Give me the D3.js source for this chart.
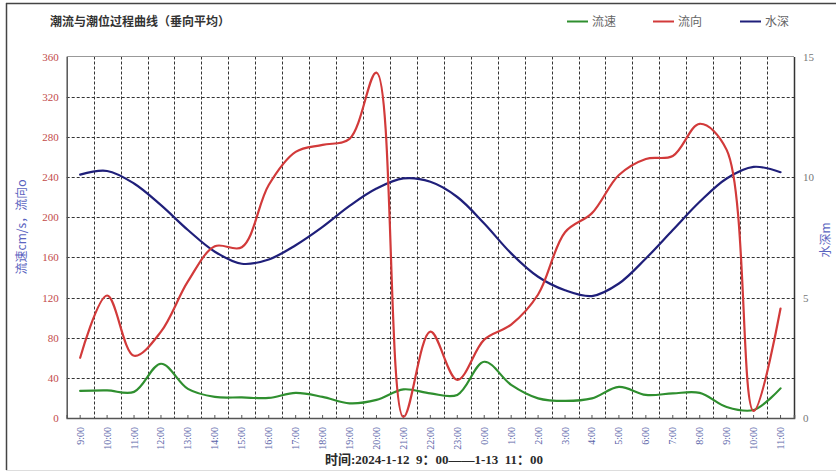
<!DOCTYPE html>
<html>
<head>
<meta charset="utf-8">
<script src="https://cdn.jsdelivr.net/npm/d3@7/dist/d3.min.js"></script>
<style>
  html, body { margin: 0; padding: 0; background: #fff; }
  svg { display: block; }
</style>
</head>
<body>
<svg id="chart" width="836" height="473"></svg>
<script>
// ---- data ----
const categories = ["9:00","10:00","11:00","12:00","13:00","14:00","15:00","16:00","17:00","18:00","19:00","20:00","21:00","22:00","23:00",
  "0:00","1:00","2:00","3:00","4:00","5:00","6:00","7:00","8:00","9:00 ","10:00 ","11:00 "];
const speed = [27, 27.5, 26, 54, 29, 21, 20.5, 20, 25, 21, 14.6, 18, 28.5, 24.5, 23, 56, 33, 19.6, 17, 19.5, 31, 23, 24.5, 25, 11, 8, 29.5];
const direction = [60, 122, 62, 86, 136, 171, 170, 232, 265, 272, 278, 344, 1, 86, 38, 78, 93, 123, 185, 204, 242, 258, 261, 293, 267, 7, 109];
const depth = [10.1, 10.25, 9.73, 8.83, 7.8, 6.9, 6.4, 6.58, 7.17, 7.93, 8.8, 9.52, 9.94, 9.8, 9.17, 8.07, 6.83, 5.86, 5.3, 5.06, 5.58, 6.62, 7.8, 8.97, 9.94, 10.42, 10.2];
const leftTicks = [0, 40, 80, 120, 160, 200, 240, 280, 320, 360];
const rightTicks = [0, 5, 10, 15];
const titleText = "潮流与潮位过程曲线（垂向平均）";
const xTitle = "时间:2024-1-12  9：00——1-13  11：00";
const yLeftTitle = "流速cm/s，流向o";
const yRightTitle = "水深m";
const legendItems = [
  {name: "流速", color: "#2f8f2f"},
  {name: "流向", color: "#d23a3a"},
  {name: "水深", color: "#1f1f7a"}
];

// ---- layout ----
const svg = d3.select("#chart");
const L = 66.7, R = 794, T = 56.5, B = 418;
const serif = "'Liberation Serif','DejaVu Serif','Noto Sans CJK SC',serif";
const cjk = "'Noto Sans CJK SC','Noto Sans',sans-serif";

// outer frame
svg.append("line").attr("x1", 6).attr("x2", 836).attr("y1", 3.5).attr("y2", 3.5).attr("stroke", "#444").attr("stroke-width", 1.5);
svg.append("line").attr("x1", 6.5).attr("x2", 6.5).attr("y1", 3).attr("y2", 470).attr("stroke", "#444").attr("stroke-width", 1.5);
svg.append("line").attr("x1", 6).attr("x2", 836).attr("y1", 470.5).attr("y2", 470.5).attr("stroke", "#ddd").attr("stroke-width", 1);

const x = d3.scaleBand().domain(categories).range([L, R]).padding(0);
const cx = d => x(d) + x.bandwidth() / 2;
const yL = d3.scaleLinear().domain([0, 360]).range([B, T]);
const yR = d3.scaleLinear().domain([0, 15]).range([B, T]);

// grid
const grid = svg.append("g");
grid.selectAll("line.h").data(leftTicks.filter(v => v > 0 && v < 360)).join("line")
  .attr("x1", L).attr("x2", R).attr("y1", d => Math.round(yL(d)) + 0.5).attr("y2", d => Math.round(yL(d)) + 0.5)
  .attr("stroke", "#333").attr("stroke-width", 1).attr("stroke-dasharray", "3,2");
grid.selectAll("line.v").data(categories.slice(1)).join("line")
  .attr("x1", d => Math.round(x(d)) + 0.5).attr("x2", d => Math.round(x(d)) + 0.5).attr("y1", T).attr("y2", B)
  .attr("stroke", "#333").attr("stroke-width", 1).attr("stroke-dasharray", "3,2");

// plot frame
svg.append("line").attr("x1", L).attr("x2", R).attr("y1", T).attr("y2", T).attr("stroke", "#999").attr("stroke-width", 1);

// axes
const axL = svg.append("g").attr("transform", `translate(${L},0)`)
  .call(d3.axisLeft(yL).tickValues(leftTicks).tickSize(0).tickPadding(8));
axL.select(".domain").attr("stroke", "#555").attr("stroke-width", 1.5);
axL.selectAll("text").attr("fill", "#c24a4a").style("font-family", serif).style("font-size", "11px");

const axR = svg.append("g").attr("transform", `translate(${R},0)`)
  .call(d3.axisRight(yR).tickValues(rightTicks).tickSize(0).tickPadding(9));
axR.select(".domain").attr("stroke", "#333").attr("stroke-width", 1.5);
axR.selectAll("text").attr("fill", "#777").style("font-family", serif).style("font-size", "11px");

const axB = svg.append("g").attr("transform", `translate(0,${B})`)
  .call(d3.axisBottom(x).tickSize(-3).tickPadding(0).tickFormat(d => d.trim()));
axB.select(".domain").attr("stroke", "#555").attr("stroke-width", 1.5);
axB.selectAll(".tick line").attr("stroke", "#555");
axB.selectAll("text")
  .attr("transform", "rotate(-90)")
  .attr("x", -9).attr("y", 0).attr("dy", "0.35em")
  .attr("text-anchor", "end")
  .attr("fill", "#5a64a8").style("font-family", serif).style("font-size", "10px");

// lines
const curve = d3.curveCatmullRom.alpha(0.5);
function drawLine(values, yScale, color) {
  const line = d3.line().x((d, i) => cx(categories[i])).y(d => yScale(d)).curve(curve);
  svg.append("path").datum(values).attr("d", line)
    .attr("fill", "none").attr("stroke", color).attr("stroke-width", 2.2)
    .attr("stroke-linejoin", "round").attr("stroke-linecap", "round");
}
drawLine(speed, yL, legendItems[0].color);
drawLine(depth, yR, legendItems[2].color);
drawLine(direction, yL, legendItems[1].color);

// title
svg.append("text").attr("x", 50).attr("y", 26).text(titleText)
  .style("font-family", cjk).style("font-size", "12px").style("font-weight", "bold").attr("fill", "#333");

// legend
const legX = [567, 653, 740];
const lg = svg.append("g");
legendItems.forEach((it, i) => {
  lg.append("line").attr("x1", legX[i]).attr("x2", legX[i] + 21).attr("y1", 21.5).attr("y2", 21.5)
    .attr("stroke", it.color).attr("stroke-width", 2);
  lg.append("text").attr("x", legX[i] + 25).attr("y", 26).text(it.name)
    .style("font-family", cjk).style("font-size", "12px").attr("fill", "#666");
});

// axis titles
svg.append("text").attr("transform", `translate(26,227) rotate(-90)`).attr("text-anchor", "middle").text(yLeftTitle)
  .style("font-family", cjk).style("font-size", "12px").attr("fill", "#5a64c0");
svg.append("text").attr("transform", `translate(830,240) rotate(-90)`).attr("text-anchor", "middle").text(yRightTitle)
  .style("font-family", cjk).style("font-size", "12px").attr("fill", "#5a64c0");
svg.append("text").attr("x", 434).attr("y", 464).attr("text-anchor", "middle").text(xTitle)
  .style("white-space", "pre")
  .style("font-family", "'Liberation Serif','Noto Sans CJK SC',serif").style("font-size", "13px").style("font-weight", "bold").attr("fill", "#2a2a2a");
</script>
</body>
</html>
